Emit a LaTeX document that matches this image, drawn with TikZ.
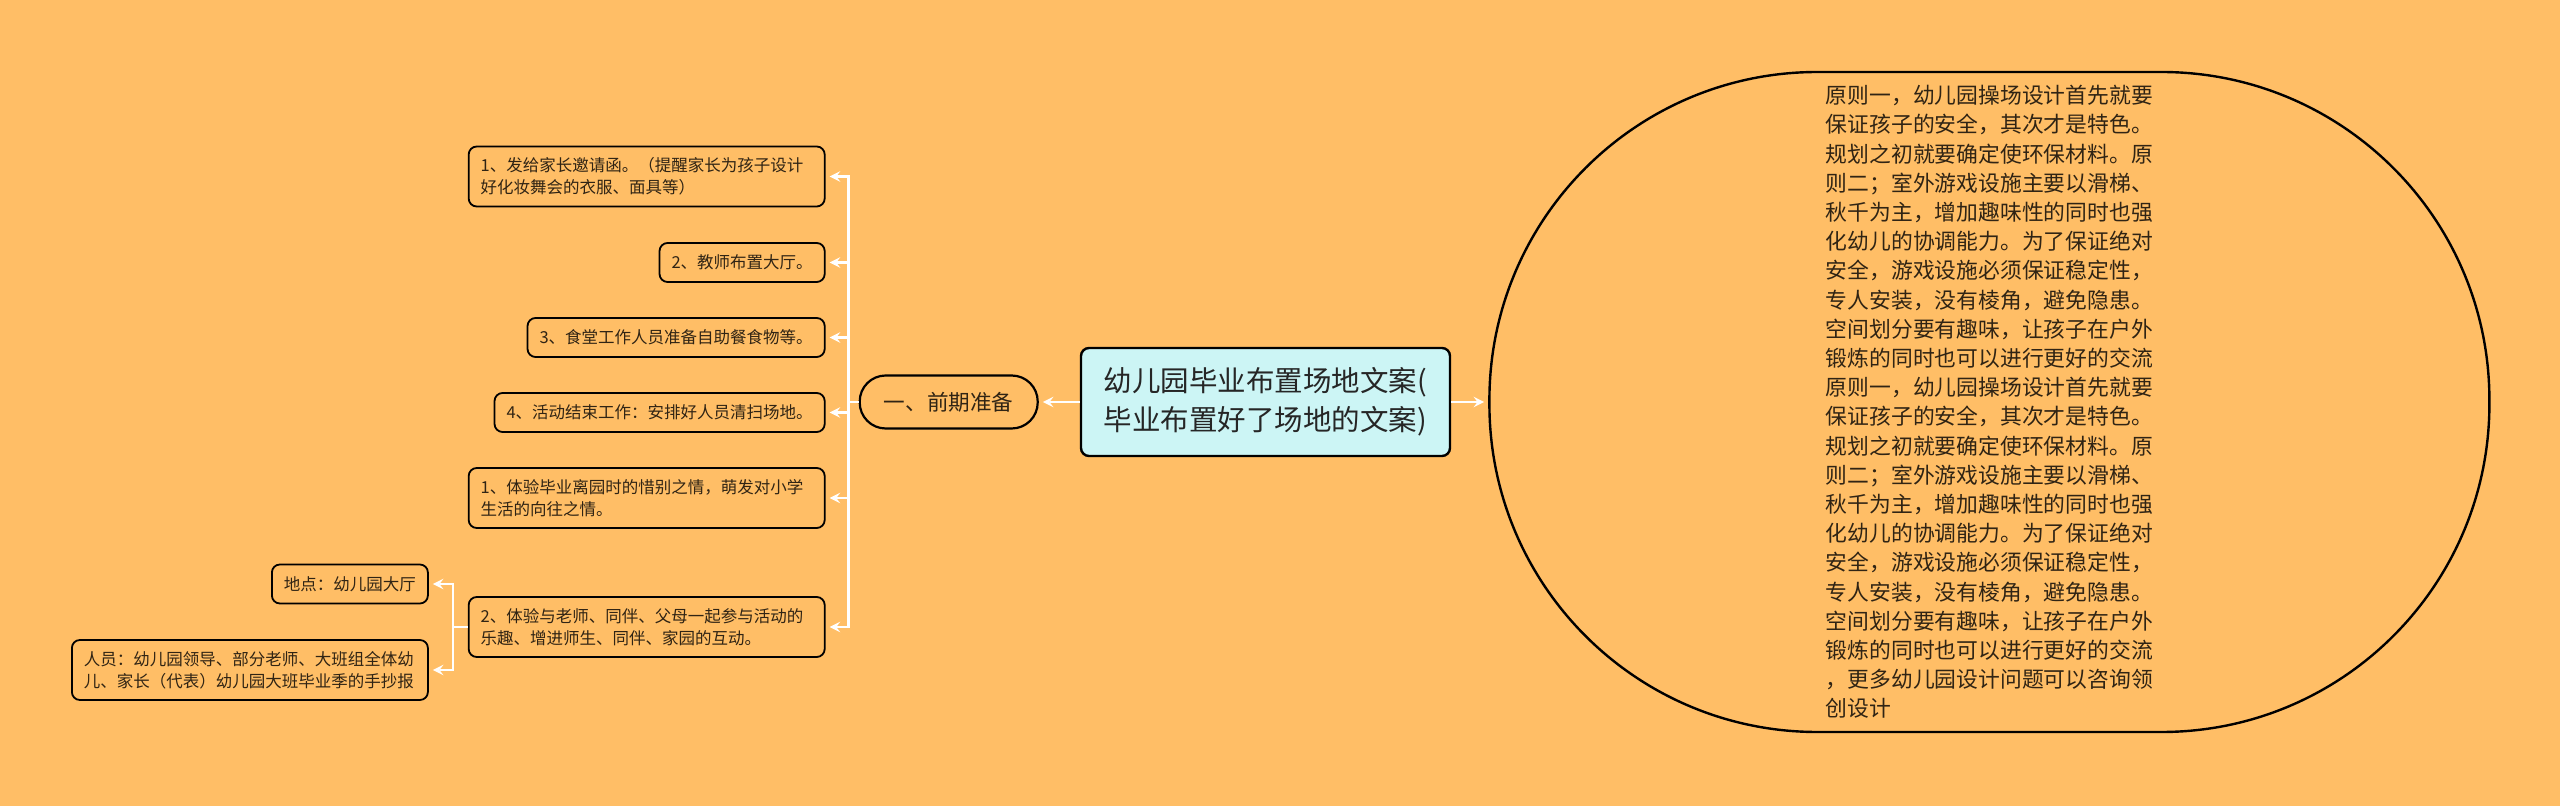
\documentclass[tikz,border=0pt]{standalone}
\usepackage{fontspec}
\setmainfont{Noto Sans CJK SC}
\usetikzlibrary{positioning, arrows}
\definecolor{bgorange}{RGB}{255,190,102}
\definecolor{rootcyan}{RGB}{204,245,245}
\definecolor{inkbrown}{RGB}{48,36,20}
\tikzstyle{root} = [rectangle, rounded corners=4pt, minimum width=184.5pt, minimum height=54pt, align=center, draw=black, line width=1.2pt, fill=rootcyan, font=\fontsize{14.25}{19.5}\selectfont, text=black!85]
\tikzstyle{branch} = [rectangle, rounded corners=13pt, minimum width=89pt, minimum height=26.5pt, align=center, draw=black, line width=1.1pt, font=\fontsize{10.8}{13}\selectfont, text=inkbrown]
\tikzstyle{leaf} = [rectangle, rounded corners=4pt, minimum height=19.5pt, inner xsep=6pt, align=left, draw=black, line width=0.9pt, font=\fontsize{8.25}{11}\selectfont, text=inkbrown]
\tikzstyle{wideleaf} = [leaf, text width=166pt, minimum height=30pt]
\tikzstyle{note} = [rectangle, rounded corners=164pt, minimum width=500pt, minimum height=330pt, align=left, draw=black, line width=1.2pt, font=\fontsize{10.9}{14.6}\selectfont, text=inkbrown]
\tikzstyle{arrow} = [draw=white, line width=1.3pt, ->, >=stealth, shorten >=2pt]

\begin{document}
\begin{tikzpicture}[x=0.5pt, y=-0.5pt]
	\useasboundingbox [fill=bgorange] (0,0) rectangle (2560,806);
	\node (root) [root] at (1265.5,402) {幼儿园毕业布置场地文案(\\毕业布置好了场地的文案)};
	\node (prep) [branch, left=20.5pt of root] {一、前期准备};
		\draw [arrow] (root) -- (prep);
	\node (info) [note, right=18.5pt of root] {原则一，幼儿园操场设计首先就要\\保证孩子的安全，其次才是特色。\\规划之初就要确定使环保材料。原\\则二；室外游戏设施主要以滑梯、\\秋千为主，增加趣味性的同时也强\\化幼儿的协调能力。为了保证绝对\\安全，游戏设施必须保证稳定性，\\专人安装，没有棱角，避免隐患。\\空间划分要有趣味，让孩子在户外\\锻炼的同时也可以进行更好的交流\\原则一，幼儿园操场设计首先就要\\保证孩子的安全，其次才是特色。\\规划之初就要确定使环保材料。原\\则二；室外游戏设施主要以滑梯、\\秋千为主，增加趣味性的同时也强\\化幼儿的协调能力。为了保证绝对\\安全，游戏设施必须保证稳定性，\\专人安装，没有棱角，避免隐患。\\空间划分要有趣味，让孩子在户外\\锻炼的同时也可以进行更好的交流\\，更多幼儿园设计问题可以咨询领\\创设计};
		\draw [arrow] (root) -- (info);

	\node (invite) [wideleaf, left=16.5pt of prep.west, yshift=112.75pt] {1、发给家长邀请函。（提醒家长为孩子设计\\好化妆舞会的衣服、面具等）};
	\node (hall) [leaf, left=16.5pt of prep.west, yshift=69.75pt] {2、教师布置大厅。};
	\node (food) [leaf, left=16.5pt of prep.west, yshift=32.25pt] {3、食堂工作人员准备自助餐食物等。};
	\node (clean) [leaf, left=16.5pt of prep.west, yshift=-5.25pt] {4、活动结束工作：安排好人员清扫场地。};
	\node (farewell) [wideleaf, left=16.5pt of prep.west, yshift=-48pt] {1、体验毕业离园时的惜别之情，萌发对小学\\生活的向往之情。};
	\node (together) [wideleaf, left=16.5pt of prep.west, yshift=-112.5pt] {2、体验与老师、同伴、父母一起参与活动的\\乐趣、增进师生、同伴、家园的互动。};
	\foreach \leafname in {invite, hall, food, clean, farewell, together}
		\draw [arrow] (prep.west) -- ++(-5pt,0) |- (\leafname.east);

	\node (place) [leaf, left=19.5pt of together.west, yshift=21.5pt] {地点：幼儿园大厅};
	\node (people) [wideleaf, left=19.5pt of together.west, yshift=-21.5pt] {人员：幼儿园领导、部分老师、大班组全体幼\\儿、家长（代表）幼儿园大班毕业季的手抄报};
		\draw [arrow] (together.west) -- ++(-7.5pt,0) |- (place.east);
		\draw [arrow] (together.west) -- ++(-7.5pt,0) |- (people.east);

\end{tikzpicture}
\end{document}
